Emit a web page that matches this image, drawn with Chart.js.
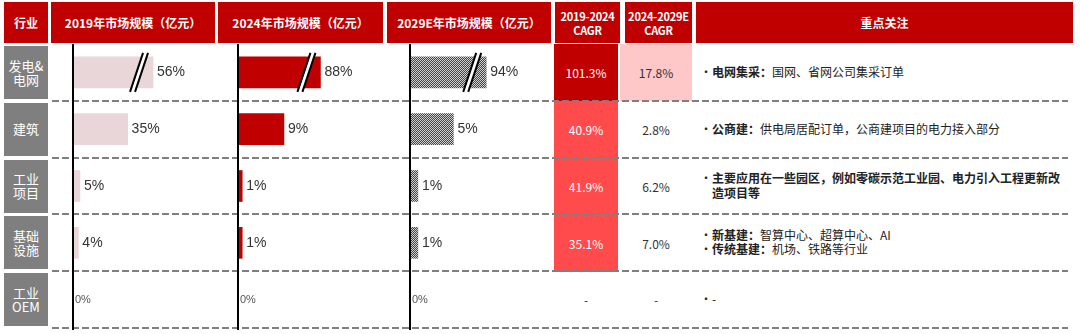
<!DOCTYPE html>
<html lang="zh">
<head>
<meta charset="UTF-8">
<title>各行业市场规模占比与增速</title>
<script src="https://cdn.jsdelivr.net/npm/chart.js"></script>
<style>
    body {
        margin: 0;
        background: #fff;
        font-family: "Noto Sans CJK SC", "Noto Sans", sans-serif;
    }
    #board {
        position: relative;
        width: 1080px;
        height: 334px;
        overflow: hidden;
    }
    .hd {
        position: absolute;
        top: 2px;
        height: 41px;
        background: #c00000;
        color: #fff;
        font-size: 12px;
        font-weight: bold;
        display: flex;
        align-items: center;
        justify-content: center;
        text-align: center;
        line-height: 14px;
        white-space: nowrap;
    }
    .hd.small {
        font-size: 11px;
        letter-spacing: -0.2px;
    }
    .cat {
        position: absolute;
        left: 4px;
        width: 44px;
        height: 53px;
        background: #7f7f7f;
        color: #fff;
        font-size: 13px;
        line-height: 14px;
        display: flex;
        align-items: center;
        justify-content: center;
        text-align: center;
    }
    .cagr {
        position: absolute;
        font-size: 12px;
        display: flex;
        align-items: center;
        justify-content: center;
        z-index: 1;
    }
    .dash {
        position: absolute;
        left: 52px;
        width: 1016px;
        height: 2px;
        background: repeating-linear-gradient(to right, #7f7f7f 0 7px, transparent 7px 10px);
        z-index: 2;
    }
    .focus {
        position: absolute;
        left: 700px;
        width: 362px;
        height: 56px;
        display: flex;
        flex-direction: column;
        justify-content: center;
        font-size: 12px;
        line-height: 14.5px;
        color: #222;
    }
    .focus div {
        position: relative;
        padding-left: 12px;
    }
    .focus div::before {
        content: "•";
        position: absolute;
        left: 0;
    }
    .panel {
        position: absolute;
        top: 44px;
        z-index: 3;
    }
</style>
</head>
<body>
<div id="board"></div>

<script>
    // Industries (rows)
    const industries = ['发电&电网', '建筑', '工业项目', '基础设施', '工业OEM'];
    const industryLines = [['发电&', '电网'], ['建筑'], ['工业', '项目'], ['基础', '设施'], ['工业', 'OEM']];

    // Market share by year (%)
    const share2019 = [56, 35, 5, 4, 0];
    const share2024 = [88, 9, 1, 1, 0];
    const share2029E = [94, 5, 1, 1, 0];

    // Growth rates (%), null = no data
    const cagr2019to2024 = [101.3, 40.9, 41.9, 35.1, null];
    const cagr2024to2029E = [17.8, 2.8, 6.2, 7.0, null];

    // Key points per row: [bold lead, rest]
    const focusPoints = [
        [['电网集采：', '国网、省网公司集采订单']],
        [['公商建：', '供电局居配订单，公商建项目的电力接入部分']],
        [['主要应用在一些园区，例如零碳示范工业园、电力引入工程更新改造项目等', '']],
        [['新基建：', '智算中心、超算中心、AI'], ['传统基建：', '机场、铁路等行业']],
        [['', '-']]
    ];

    const headers = [
        { text: '行业', left: 4, width: 44 },
        { text: '2019年市场规模（亿元）', left: 51, width: 164 },
        { text: '2024年市场规模（亿元）', left: 218, width: 165 },
        { text: '2029E年市场规模（亿元）', left: 387, width: 164 },
        { text: '2019-2024<br>CAGR', left: 555, width: 65, small: true },
        { text: '2024-2029E<br>CAGR', left: 625, width: 67, small: true },
        { text: '重点关注', left: 696, width: 377 }
    ];

    const TOP = 44, ROW_H = 56.8;
    const board = document.getElementById('board');

    function add(cls, css, html) {
        const d = document.createElement('div');
        d.className = cls;
        Object.assign(d.style, css);
        if (html !== undefined) d.innerHTML = html;
        board.appendChild(d);
        return d;
    }

    headers.forEach(h => add(h.small ? 'hd small' : 'hd', { left: h.left + 'px', width: h.width + 'px' }, h.text));

    industries.forEach((name, i) => {
        const y = TOP + i * ROW_H;
        add('cat', { top: (y + 2) + 'px' }, industryLines[i].join('<br>'));
        add('dash', { top: Math.round(y + ROW_H - 1) + 'px' });
    });

    // CAGR cell shading by size of growth
    function cagrFill(v) {
        if (v === null) return null;
        if (v >= 100) return '#c00000';
        if (v >= 30) return '#ff4b4b';
        if (v >= 15) return '#ffc8c8';
        return null;
    }
    function cagrCells(values, left, width) {
        values.forEach((v, i) => {
            const bg = cagrFill(v);
            add('cagr', {
                left: left + 'px',
                width: width + 'px',
                top: (TOP + i * ROW_H) + 'px',
                height: (ROW_H + 0.5) + 'px',
                background: bg || 'transparent',
                color: (bg && v >= 30) ? '#fff' : '#333'
            }, v === null ? '-' : v.toFixed(1) + '%');
        });
    }
    cagrCells(cagr2019to2024, 554, 64);
    cagrCells(cagr2024to2029E, 620, 72);

    focusPoints.forEach((items, i) => {
        const box = add('focus', { top: (TOP + i * ROW_H) + 'px' });
        items.forEach(([lead, rest]) => {
            const line = document.createElement('div');
            line.innerHTML = (lead ? '<b>' + lead + '</b>' : '') + rest;
            box.appendChild(line);
        });
    });

    // Fine dither used for the 2029E bars
    function ditherPattern() {
        const c = document.createElement('canvas');
        c.width = 2; c.height = 2;
        const g = c.getContext('2d');
        g.fillStyle = '#cfcfcf'; g.fillRect(0, 0, 2, 2);
        g.fillStyle = '#464646'; g.fillRect(0, 0, 1, 1); g.fillRect(1, 1, 1, 1);
        return g.createPattern(c, 'repeat');
    }

    // Axis line, value labels and break marks for over-long bars
    const barDecor = {
        id: 'barDecor',
        afterDatasetsDraw(chart, args, opts) {
            const ctx = chart.ctx;
            const area = chart.chartArea;
            const meta = chart.getDatasetMeta(0);
            ctx.save();
            meta.data.forEach((bar, i) => {
                const v = opts.values[i];
                const { x, y, height } = bar.getProps(['x', 'y', 'height'], true);
                if (v > opts.cap) {
                    const top = y - height / 2 - 4, bot = y + height / 2 + 4;
                    const cx = x - 14, s = 6.5;
                    ctx.fillStyle = '#fff';
                    ctx.beginPath();
                    ctx.moveTo(cx - s - 2.5, bot);
                    ctx.lineTo(cx + s - 2.5, top);
                    ctx.lineTo(cx + s + 2.5, top);
                    ctx.lineTo(cx - s + 2.5, bot);
                    ctx.closePath();
                    ctx.fill();
                    ctx.strokeStyle = '#000';
                    ctx.lineWidth = 2;
                    [-2.5, 2.5].forEach(o => {
                        ctx.beginPath();
                        ctx.moveTo(cx - s + o, bot);
                        ctx.lineTo(cx + s + o, top);
                        ctx.stroke();
                    });
                }
                ctx.textBaseline = 'middle';
                if (v === 0) {
                    ctx.font = '11px "Liberation Sans", Arial, sans-serif';
                    ctx.fillStyle = '#555';
                    ctx.fillText('0%', area.left + 3, y);
                } else {
                    ctx.font = '14px "Liberation Sans", Arial, sans-serif';
                    ctx.fillStyle = '#333';
                    ctx.fillText(v + '%', x + 4, y);
                }
            });
            ctx.strokeStyle = '#000';
            ctx.lineWidth = 2;
            ctx.beginPath();
            ctx.moveTo(area.left + 1, 0);
            ctx.lineTo(area.left + 1, chart.height);
            ctx.stroke();
            ctx.restore();
        }
    };

    const panels = [
        { values: share2019, left: 72, width: 143, max: 90, cap: 51, color: '#e8d6d9' },
        { values: share2024, left: 237, width: 146, max: 28, cap: 16, color: '#c00000' },
        { values: share2029E, left: 409, width: 142, max: 16, cap: 8.7, color: ditherPattern() }
    ];

    panels.forEach(p => {
        const canvas = document.createElement('canvas');
        canvas.className = 'panel';
        canvas.width = p.width;
        canvas.height = 286;
        canvas.style.left = p.left + 'px';
        board.appendChild(canvas);

        new Chart(canvas.getContext('2d'), {
            type: 'bar',
            data: {
                labels: industries,
                datasets: [{
                    data: p.values.map(v => Math.min(v, p.cap)),
                    backgroundColor: p.color,
                    borderWidth: 0,
                    barThickness: 31
                }]
            },
            options: {
                indexAxis: 'y',
                responsive: false,
                animation: false,
                devicePixelRatio: 1,
                layout: { padding: { bottom: 2 } },
                scales: {
                    x: { display: false, min: 0, max: p.max },
                    y: { display: false }
                },
                plugins: {
                    legend: { display: false },
                    tooltip: { enabled: false },
                    barDecor: { values: p.values, cap: p.cap }
                }
            },
            plugins: [barDecor]
        });
    });
</script>
</body>
</html>
